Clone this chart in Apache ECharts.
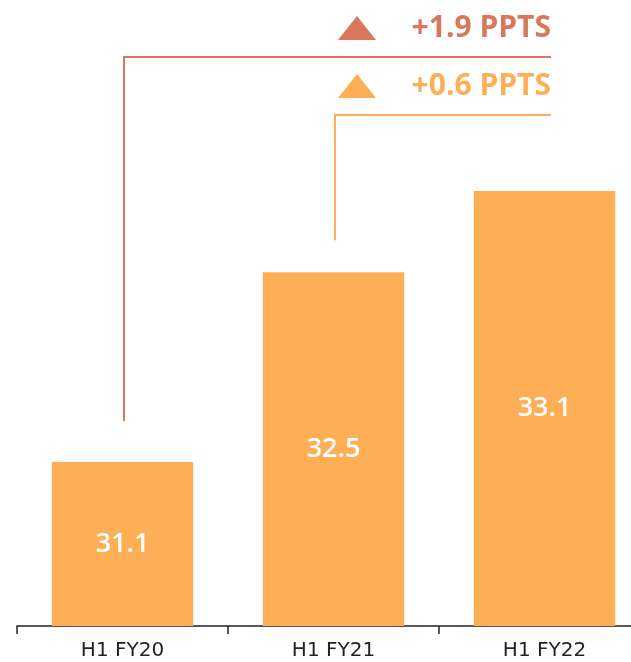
<!DOCTYPE html>
<html>
<head>
<meta charset="utf-8">
<script src="https://cdn.jsdelivr.net/npm/echarts@6/dist/echarts.min.js"></script>
<style>
  html, body { margin: 0; padding: 0; background: #fff; }
  #chart { width: 631px; height: 662px; }
</style>
</head>
<body>
<div id="chart"></div>
<script>
const categories = ['H1 FY20', 'H1 FY21', 'H1 FY22'];
const values = [31.1, 32.5, 33.1];
// change annotations, measured from an earlier bar to the latest one
const changeLabels = ['+1.9 PPTS', '+0.6 PPTS'];
const changeFrom = [0, 1];

const ORANGE = '#FEAF56';
const RED = '#D8775C';
const FONT = '"Open Sans", sans-serif';

const chart = echarts.init(document.getElementById('chart'));

const option = {
  animation: false,
  backgroundColor: '#fff',
  grid: { left: 17, right: -19, top: 0, bottom: 36, outerBoundsMode: 'none', containLabel: false },
  xAxis: {
    type: 'category',
    data: categories,
    axisLine: { lineStyle: { color: '#222', width: 1.5 } },
    axisTick: { show: true, length: 8, lineStyle: { color: '#222', width: 1.5 } },
    axisLabel: { color: '#222', fontSize: 20, fontFamily: '"DejaVu Sans", sans-serif', margin: 15 }
  },
  yAxis: {
    type: 'value',
    min: 29.89,
    max: 34.51,
    show: false,
    splitLine: { show: false }
  },
  series: [{
    type: 'bar',
    data: values,
    barWidth: '67%',
    itemStyle: { color: ORANGE },
    label: {
      show: true,
      position: 'inside',
      color: '#fff',
      fontSize: 27,
      fontWeight: 600,
      fontFamily: FONT,
      formatter: p => p.value.toFixed(1)
    }
  }]
};

chart.setOption(option);

// brackets from the earlier bars across to the right
const colours = [RED, ORANGE];
const bracketTop = [57, 115];
const gapAboveBar = [41, 32];
const rightEnd = 551;
const elements = [];
changeFrom.forEach((idx, i) => {
  const x = Math.round(chart.convertToPixel({ xAxisIndex: 0 }, idx)) + 1;
  const yTop = chart.convertToPixel({ yAxisIndex: 0 }, values[idx]);
  const yBottom = yTop - gapAboveBar[i];
  elements.push({
    type: 'polyline',
    shape: { points: [[x, yBottom], [x, bracketTop[i]], [rightEnd, bracketTop[i]]] },
    style: { stroke: colours[i], lineWidth: 2, fill: null }
  });
  const ty = bracketTop[i] - 29;
  elements.push({
    type: 'polygon',
    shape: { points: [[338, ty + 12], [376, ty + 12], [357, ty - 12]] },
    style: { fill: colours[i] }
  });
  elements.push({
    type: 'text',
    x: rightEnd,
    y: ty,
    style: {
      text: changeLabels[i],
      fill: colours[i],
      font: 'bold 30px ' + FONT,
      align: 'right',
      verticalAlign: 'middle'
    }
  });
});
chart.setOption({ graphic: { elements } });
</script>
</body>
</html>
